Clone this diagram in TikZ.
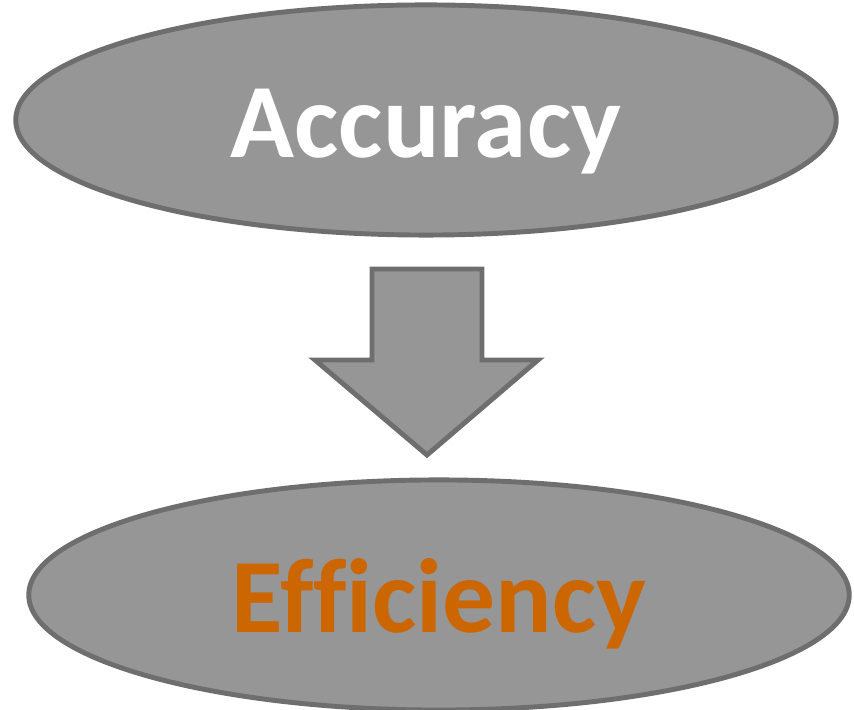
\documentclass[tikz,border=0pt]{standalone}
\usepackage{fontspec}
\setmainfont{Carlito}[Ligatures=CommonOff]
\usetikzlibrary{shapes.geometric}
\definecolor{ovalfill}{RGB}{150,150,150}
\definecolor{ovaldraw}{RGB}{110,110,110}
\definecolor{effcolor}{RGB}{204,102,0}
\tikzset{%
	oval/.style={draw=ovaldraw, fill=ovalfill, line width=1.4pt, ellipse,%
		minimum width=8.2cm, minimum height=2.3cm, inner sep=0mm,%
		font=\fontsize{30}{36}\selectfont\bfseries, text height=21.5pt, text depth=0pt},
	blockarrow/.style={draw=ovaldraw, fill=ovalfill, line width=1.4pt, line join=miter}
}
\begin{document}
\begin{tikzpicture}[x=0.01cm, y=-0.01cm]
			\useasboundingbox (0,0) rectangle (854,710);
			\node[oval, text=white] (acc) at (426,120) {Accuracy};
			\node[oval, text=effcolor] (eff) at (439,595) {Efficiency};
			% down arrow between the two ovals
			\draw [blockarrow] (372,269) -- (482,269) -- (482,360) -- (538,360)
				-- (427,455) -- (315,360) -- (372,360) -- cycle;
		\end{tikzpicture}
\end{document}
